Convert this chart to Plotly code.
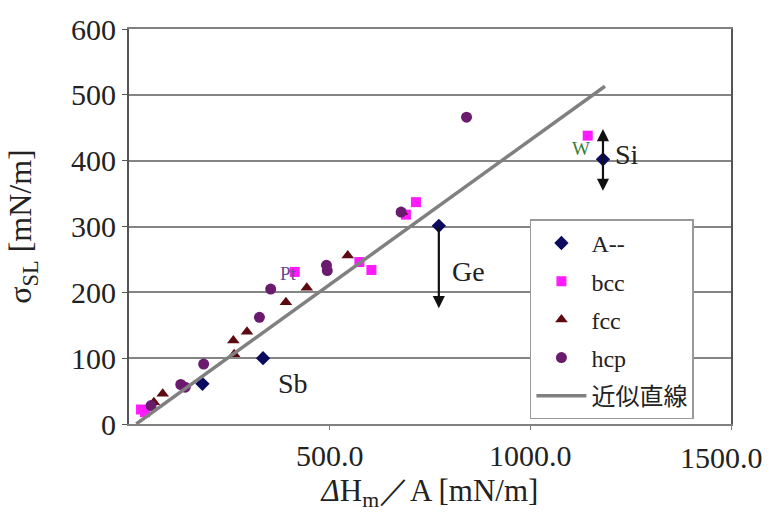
import plotly.graph_objects as go

# ---- data ----
a_x = [183, 334, 772, 1181]
a_y = [61, 100, 301, 402]

bcc_x = [30, 40, 413, 574, 604, 690, 715, 1143]
bcc_y = [22, 18, 231, 246, 234, 318, 337, 438]

fcc_x = [62, 84, 260, 262, 294, 391, 443, 545, 680]
fcc_y = [33, 46, 127, 106, 140, 185, 207, 256, 322]

hcp_x = [55, 129, 140, 186, 325, 353, 492, 494, 678, 841]
hcp_y = [28, 60, 56, 91, 162, 205, 241, 233, 322, 466]

trend_x = [18, 1186]
trend_y = [0, 513]

x_ticks = [500, 1000]
x_tick_text = ["500.0", "1000.0"]
x_last_tick = 1500
x_last_text = "1500.0"
y_ticks = [0, 100, 200, 300, 400, 500, 600]

SERIF = "Liberation Serif, Times New Roman, serif"
TICK_SIZE = 30

fig = go.Figure()
fig.add_trace(go.Scatter(x=a_x, y=a_y, mode="markers", name="A--", legendgroup="a",
                         marker=dict(symbol="diamond", size=11, color="#0a0a5e")))
fig.add_trace(go.Scatter(x=bcc_x, y=bcc_y, mode="markers", name="bcc", legendgroup="b",
                         marker=dict(symbol="square", size=10, color="#ff1aff")))
fig.add_trace(go.Scatter(x=fcc_x, y=fcc_y, mode="markers", name="fcc", legendgroup="f",
                         marker=dict(symbol="triangle-up", size=11, color="#5c0a10")))
fig.add_trace(go.Scatter(x=hcp_x, y=hcp_y, mode="markers", name="hcp", legendgroup="h",
                         marker=dict(symbol="circle", size=11, color="#6a1b6e")))
fig.add_trace(go.Scatter(x=trend_x, y=trend_y, mode="lines", name="近似直線", legendgroup="t",
                         line=dict(color="#808080", width=3.5)))

# arrows
def arrow(x, y, ax, ay, side="end"):
    fig.add_annotation(x=x, y=y, ax=ax, ay=ay, xref="x", yref="y", axref="x", ayref="y",
                       showarrow=True, arrowhead=2, arrowsize=1.1, arrowwidth=2.2,
                       arrowcolor="#111111", arrowside=side, text="")

arrow(772, 176, 772, 301)
arrow(1181, 448, 1181, 352, side="end+start")

def label(x, y, t, size, color="#222222"):
    fig.add_annotation(x=x, y=y, xref="x", yref="y", text=t, showarrow=False,
                       font=dict(family=SERIF, size=size, color=color))

label(845, 231, "Ge", 28)
label(1240, 409, "Si", 28)
label(408, 62, "Sb", 28)
label(1126, 419, "W", 19, "#3a7d3a")
label(398, 228, "Pt", 19, "#6a4a8a")

# last x tick label (shifted inward like the reference)
fig.add_annotation(x=x_last_tick, y=0, xref="x", yref="paper", yanchor="top", xanchor="right",
                   xshift=34, yshift=-15, text=x_last_text, showarrow=False,
                   font=dict(family=SERIF, size=TICK_SIZE, color="#222222"))

fig.update_layout(
    width=769, height=514,
    margin=dict(l=129, r=38, t=20, b=79),
    paper_bgcolor="white", plot_bgcolor="white",
    font=dict(family=SERIF, size=TICK_SIZE, color="#222222"),
    showlegend=True,
    legend=dict(x=0.666, y=0.518, xanchor="left", yanchor="top",
                bgcolor="white", bordercolor="#999999", borderwidth=1.5,
                font=dict(family=SERIF + ", Noto Sans CJK JP", size=24),
                itemwidth=50, tracegroupgap=4),
)
fig.update_xaxes(range=[0, 1500], tickvals=x_ticks + [x_last_tick], ticktext=x_tick_text + [""],
                 showgrid=False, zeroline=False,
                 showline=True, linecolor="#808080", linewidth=2, mirror=True,
                 ticks="outside", ticklen=4, tickcolor="#808080",
                 title=dict(text="<i>Δ</i>H<sub>m</sub>／A [mN/m]", font=dict(size=31), standoff=8))
fig.update_yaxes(range=[0, 600], tickvals=y_ticks,
                 showgrid=True, gridcolor="#858585", gridwidth=1.5, zeroline=False,
                 showline=True, linecolor="#555555", linewidth=2, mirror=True,
                 ticks="outside", ticklen=5, tickcolor="#555555",
                 title=dict(text="σ<sub>SL</sub> [mN/m]", font=dict(size=32), standoff=30))

fig.write_html("out.html")
